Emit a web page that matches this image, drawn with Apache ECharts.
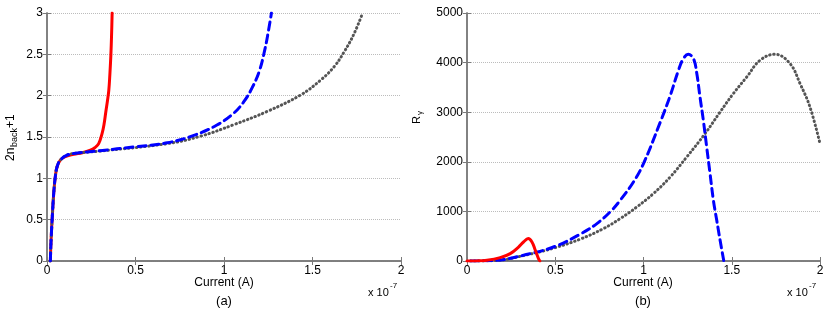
<!DOCTYPE html>
<html>
<head>
<meta charset="utf-8">
<script src="https://cdn.jsdelivr.net/npm/echarts@6/dist/echarts.min.js"></script>
<style>
html,body{margin:0;padding:0;background:#fff;}
#chart{width:830px;height:312px;}
</style>
</head>
<body>
<div id="chart"></div>
<script>
// ---- Data (x in units of 1e-7 A) ----
var xTicks = [0, 0.5, 1, 1.5, 2];
var yTicksA = [0, 0.5, 1, 1.5, 2, 2.5, 3];
var yTicksB = [0, 1000, 2000, 3000, 4000, 5000];

// Panel (a): 2n_back + 1
var redA_x = [0.019,0.023,0.030,0.038,0.047,0.057,0.075,0.10,0.15,0.20,0.245,0.27,0.292,0.311,0.322,0.332,0.341,0.349,0.355,0.361,0.365,0.368];
var redA_y = [0,0.25,0.54,0.82,1.02,1.14,1.22,1.26,1.29,1.31,1.34,1.37,1.42,1.54,1.65,1.80,1.93,2.06,2.25,2.5,2.75,3.0];

var blueA_x = [0.019,0.023,0.030,0.038,0.047,0.057,0.075,0.113,0.15,0.30,0.49,0.68,0.83,0.96,1.056,1.113,1.16,1.20,1.23,1.25,1.268];
var blueA_y = [0,0.25,0.54,0.82,1.02,1.14,1.22,1.28,1.30,1.334,1.38,1.43,1.52,1.645,1.79,1.93,2.10,2.30,2.55,2.77,3.0];

var grayA_x = [0.019,0.023,0.030,0.038,0.047,0.057,0.075,0.113,0.15,0.30,0.68,0.868,1.056,1.245,1.434,1.547,1.622,1.679,1.735,1.783];
var grayA_y = [0,0.25,0.54,0.82,1.02,1.14,1.22,1.28,1.30,1.33,1.42,1.51,1.65,1.81,2.01,2.19,2.35,2.53,2.75,3.0];

// Panel (b): R_gamma
var redB_x = [0,0.05,0.113,0.188,0.245,0.292,0.32,0.347,0.368,0.387,0.405,0.413];
var redB_y = [0,2,15,68,149,282,383,452,383,216,48,0];

var blueB_x = [0.02,0.15,0.358,0.5,0.641,0.736,0.811,0.868,0.943,1.0,1.094,1.151,1.198,1.226,1.254,1.283,1.302,1.320,1.339,1.358,1.377,1.396,1.415,1.434,1.455];
var blueB_y = [0,10,149,296,540,754,990,1224,1593,1964,2790,3330,3845,4080,4167,4080,3778,3307,2837,2298,1762,1224,820,417,0];

var grayB_x = [0.02,0.15,0.358,0.5,0.641,0.773,0.868,0.962,1.056,1.151,1.245,1.349,1.434,1.509,1.585,1.66,1.745,1.83,1.887,1.943,2.0];
var grayB_y = [0,8,140,270,440,653,855,1089,1359,1693,2097,2569,3004,3375,3710,4046,4167,3980,3577,3105,2367];

function zip(xs, ys){ var out=[]; for(var i=0;i<xs.length;i++) out.push([xs[i], ys[i]]); return out; }

var FONT = 'Liberation Sans, Arial, sans-serif';
var axisCol = '#7a7a7a';

function xAxes(gi){
  return [{
    type:'value', gridIndex:gi, min:0, max:2, interval:0.5, position:'bottom',
    axisLine:{show:true, lineStyle:{color:axisCol, width:1.5}},
    axisTick:{show:true, inside:true, length:4, lineStyle:{color:axisCol}},
    axisLabel:{show:true, color:'#000', fontFamily:FONT, fontSize:12, margin:4,
      formatter:function(v){ return String(v); }},
    splitLine:{show:false}
  },{
    type:'value', gridIndex:gi, min:0, max:2, interval:0.5, position:'top',
    axisLine:{show:true, lineStyle:{color:axisCol, width:1.5}},
    axisTick:{show:true, inside:true, length:4, lineStyle:{color:axisCol}},
    axisLabel:{show:false}, splitLine:{show:false}
  }];
}
function yAxes(gi, max, interval){
  return [{
    type:'value', gridIndex:gi, min:0, max:max, interval:interval, position:'left',
    axisLine:{show:true, lineStyle:{color:axisCol, width:1.5}},
    axisTick:{show:true, inside:true, length:4, lineStyle:{color:axisCol}},
    axisLabel:{show:true, color:'#000', fontFamily:FONT, fontSize:12, margin:4,
      formatter:function(v){ return String(v); }},
    splitLine:{show:true, lineStyle:{color:'#bcbcbc', width:1, type:'dotted'}}
  },{
    type:'value', gridIndex:gi, min:0, max:max, interval:interval, position:'right',
    axisLine:{show:true, lineStyle:{color:axisCol, width:1.5}},
    axisTick:{show:true, inside:true, length:4, lineStyle:{color:axisCol}},
    axisLabel:{show:false}, splitLine:{show:false}
  }];
}

var xa = xAxes(0).concat(xAxes(1));
var ya = yAxes(0, 3, 0.5).concat(yAxes(1, 5000, 1000));

function lineSeries(xi, yi, data, color, type, width, z){
  return {
    type:'line', xAxisIndex:xi, yAxisIndex:yi, data:data, showSymbol:false, symbol:'none',
    smooth:0.4, clip:true, z:z, animation:false,
    lineStyle:{color:color, width:width, type:type, cap:'round', join:'round'}
  };
}

var option = {
  animation:false,
  grid:[
    {left:47, right:429, top:13, bottom:51, containLabel:false},
    {left:467, right:10, top:13, bottom:51, containLabel:false}
  ],
  xAxis: xa,
  yAxis: ya,
  series:[
    lineSeries(0,0, zip(grayA_x, grayA_y), '#555555', [0.5,3.6], 3, 2),
    lineSeries(0,0, zip(blueA_x, blueA_y), '#0000ff', [8,5], 3, 3),
    lineSeries(0,0, zip(redA_x, redA_y), '#ff0000', 'solid', 3, 1),
    lineSeries(2,2, zip(redB_x, redB_y), '#ff0000', 'solid', 3, 4),
    lineSeries(2,2, zip(grayB_x, grayB_y), '#555555', [0.5,3.6], 3, 2),
    lineSeries(2,2, zip(blueB_x, blueB_y), '#0000ff', [8,5], 3, 3)
  ],
  graphic:[
    {type:'group', x:5, y:161, rotation:Math.PI/2, children:[
      {type:'text', x:0, y:0, style:{text:'2n', font:'12px '+FONT, fill:'#000', textVerticalAlign:'top'}},
      {type:'text', x:14, y:5, style:{text:'back', font:'9px '+FONT, fill:'#000', textVerticalAlign:'top'}},
      {type:'text', x:33, y:0, style:{text:'+1', font:'12px '+FONT, fill:'#000', textVerticalAlign:'top'}}
    ]},
    {type:'group', x:411, y:124, rotation:Math.PI/2, children:[
      {type:'text', x:0, y:0, style:{text:'R', font:'11px '+FONT, fill:'#000', textVerticalAlign:'top'}},
      {type:'text', x:9, y:5, style:{text:'γ', font:'8px '+FONT, fill:'#000', textVerticalAlign:'top'}}
    ]},
    {type:'text', x:224, y:283, style:{text:'Current (A)', font:'12px '+FONT, fill:'#000', textAlign:'center', textVerticalAlign:'middle'}},
    {type:'text', x:224, y:301, style:{text:'(a)', font:'13px '+FONT, fill:'#000', textAlign:'center', textVerticalAlign:'middle'}},
    {type:'text', x:643, y:283, style:{text:'Current (A)', font:'12px '+FONT, fill:'#000', textAlign:'center', textVerticalAlign:'middle'}},
    {type:'text', x:643, y:301, style:{text:'(b)', font:'13px '+FONT, fill:'#000', textAlign:'center', textVerticalAlign:'middle'}},
    {type:'text', x:368, y:293, style:{text:'x 10', font:'11px '+FONT, fill:'#000', textVerticalAlign:'middle'}},
    {type:'text', x:390, y:286, style:{text:'-7', font:'8px '+FONT, fill:'#000', textVerticalAlign:'middle'}},
    {type:'text', x:787, y:293, style:{text:'x 10', font:'11px '+FONT, fill:'#000', textVerticalAlign:'middle'}},
    {type:'text', x:809, y:286, style:{text:'-7', font:'8px '+FONT, fill:'#000', textVerticalAlign:'middle'}}
  ]
};

var chart = echarts.init(document.getElementById('chart'), null, {renderer:'canvas'});
chart.setOption(option);
</script>
</body>
</html>
